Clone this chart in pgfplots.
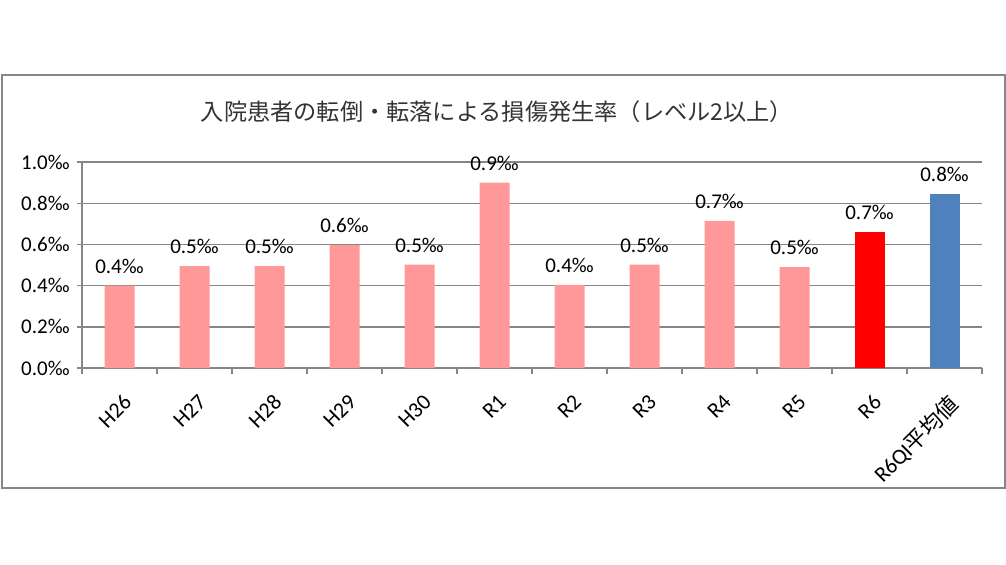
\documentclass[border=0pt]{standalone}
\usepackage{fontspec}
\setmainfont{Carlito}
\newfontfamily\cjk{Noto Sans CJK JP}
\usepackage{pgfplots}
\pgfplotsset{compat=1.18}
\usepackage{pgfplotstable}

\definecolor{pinkbar}{HTML}{FF9999}
\definecolor{redbar}{HTML}{FF0000}
\definecolor{bluebar}{HTML}{4F81BD}
\definecolor{gridgray}{HTML}{868686}

% rate of injury from falls (per mille)
\pgfplotstableread{
x  y     lab
0  0.400 0.4‰
1  0.495 0.5‰
2  0.495 0.5‰
3  0.597 0.6‰
4  0.502 0.5‰
5  0.900 0.9‰
6  0.403 0.4‰
7  0.502 0.5‰
8  0.714 0.7‰
9  0.490 0.5‰
}\pastdata
\pgfplotstableread{
x  y     lab
10 0.660 0.7‰
}\currentdata
\pgfplotstableread{
x  y     lab
11 0.845 0.8‰
}\qidata

\begin{document}
\fontsize{10.5}{12}\selectfont
\begin{tikzpicture}
    \useasboundingbox[fill=white] (0,0) rectangle (503pt,282pt);
    \draw[gridgray, line width=1pt] (1pt,38pt) rectangle (502.5pt,244.5pt);
    \node[font=\cjk\fontsize{11.6}{13}\selectfont, text=black!80] at (248.5pt,226pt)
        {入院患者の転倒・転落による損傷発生率（レベル2以上）};

    \begin{axis}[
        at={(41pt,98pt)}, anchor=south west,
        scale only axis,
        width=450pt, height=103pt,
        xmin=-0.5, xmax=11.5,
        ymin=0, ymax=1.0,
        axis lines*=left,
        axis line style={gridgray, line width=0.7pt},
        ymajorgrids,
        grid style={gridgray, line width=0.7pt},
        tick align=outside,
        major tick length=2.5pt,
        tick style={gridgray, line width=0.7pt},
        ytick={0,0.2,0.4,0.6,0.8,1.0},
        yticklabels={0.0‰,0.2‰,0.4‰,0.6‰,0.8‰,1.0‰},
        xtick={0,...,11},
        xticklabels={H26,H27,H28,H29,H30,R1,R2,R3,R4,R5,R6,{R6QI{\cjk 平均値}}},
        xtick style={draw=none},
        xticklabel style={rotate=45, anchor=north east, inner sep=1pt, yshift=-7pt, xshift=-5pt, font=\fontsize{11}{12}\selectfont},
        yticklabel style={font=\fontsize{10.5}{12}\selectfont},
        ybar, bar width=15pt, bar shift=0pt,
        nodes near coords,
        point meta=explicit symbolic,
        nodes near coords style={anchor=south, inner sep=0pt, yshift=6pt, font=\fontsize{10.5}{12}\selectfont},
        clip=false,
    ]
        \addplot[fill=pinkbar, draw=none] table[x=x, y=y, meta=lab] {\pastdata};
        \addplot[fill=redbar, draw=none] table[x=x, y=y, meta=lab] {\currentdata};
        \addplot[fill=bluebar, draw=none] table[x=x, y=y, meta=lab] {\qidata};
        % category separators below the x axis
        \pgfplotsinvokeforeach{-0.5,0.5,...,11.5}{
            \draw[gridgray, line width=0.7pt] (axis cs:#1,0) -- ++(0pt,-3pt);
        }
    \end{axis}
\end{tikzpicture}
\end{document}
